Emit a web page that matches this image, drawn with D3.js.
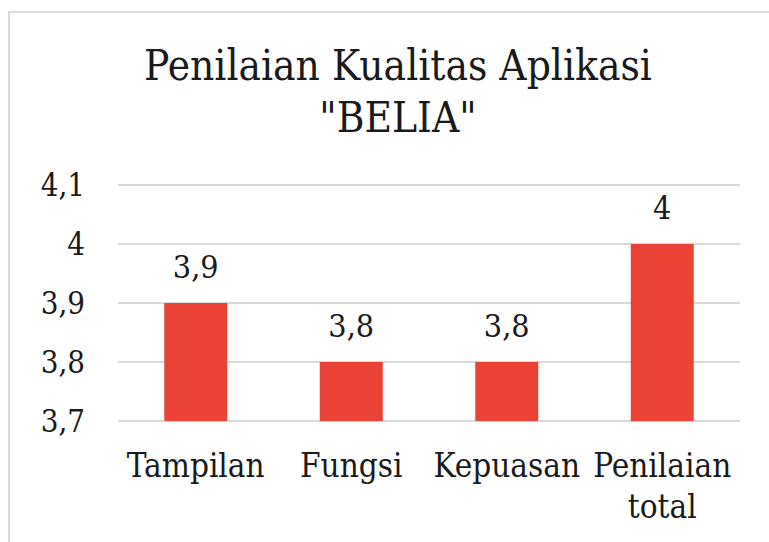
<!DOCTYPE html>
<html>
  <meta charset="utf-8">
  <style>
    body { margin: 0; background: #fff; }
  </style>
  <head>
    <script src="https://d3js.org/d3.v7.min.js"></script>
  </head>
  <body>
    <script>
      var categories = [["Tampilan"], ["Fungsi"], ["Kepuasan"], ["Penilaian", "total"]];
      var values = [3.9, 3.8, 3.8, 4];
      var valueLabels = ["3,9", "3,8", "3,8", "4"];
      var ticks = [3.7, 3.8, 3.9, 4, 4.1];
      var tickLabels = ["3,7", "3,8", "3,9", "4", "4,1"];
      var titleLines = ["Penilaian Kualitas Aplikasi", "\"BELIA\""];

      var width = 769,
          height = 542;

      var svg = d3.select("body").append("svg")
          .attr("width", width)
          .attr("height", height)
          .style("font-family", "DejaVu Serif Condensed, DejaVu Serif, serif")
          .style("font-stretch", "condensed")
          .attr("fill", "#1a1a1a");

      // chart frame (cropped at right/bottom)
      svg.append("rect")
          .attr("x", 9).attr("y", 12)
          .attr("width", 800).attr("height", 600)
          .attr("fill", "none")
          .attr("stroke", "#d9d9d9")
          .attr("stroke-width", 2);

      var x = d3.scaleBand()
          .domain(d3.range(categories.length))
          .range([118, 740])
          .paddingInner(0.595)
          .paddingOuter(0.2975);

      var y = d3.scaleLinear()
          .domain([3.7, 4.1])
          .range([421, 185]);

      // gridlines
      svg.append("g").selectAll("line")
          .data(ticks)
          .enter().append("line")
          .attr("x1", 118).attr("x2", 740)
          .attr("y1", function(d) { return y(d); })
          .attr("y2", function(d) { return y(d); })
          .attr("stroke", "#d9d9d9")
          .attr("stroke-width", 2);

      // y tick labels
      svg.append("g").selectAll("text")
          .data(ticks)
          .enter().append("text")
          .attr("x", 85)
          .attr("y", function(d) { return y(d); })
          .attr("dy", "0.36em")
          .attr("text-anchor", "end")
          .attr("font-size", 31)
          .text(function(d, i) { return tickLabels[i]; });

      // bars
      svg.append("g").selectAll("rect")
          .data(values)
          .enter().append("rect")
          .attr("x", function(d, i) { return x(i); })
          .attr("y", function(d) { return y(d); })
          .attr("width", x.bandwidth())
          .attr("height", function(d) { return y(3.7) - y(d); })
          .attr("fill", "#ea4335");

      // data labels
      svg.append("g").selectAll("text")
          .data(values)
          .enter().append("text")
          .attr("x", function(d, i) { return x(i) + x.bandwidth() / 2; })
          .attr("y", function(d) { return y(d) - 25; })
          .attr("text-anchor", "middle")
          .attr("font-size", 32)
          .text(function(d, i) { return valueLabels[i]; });

      // category labels
      var cat = svg.append("g").selectAll("text")
          .data(categories)
          .enter().append("text")
          .attr("x", function(d, i) { return x(i) + x.bandwidth() / 2; })
          .attr("y", 477)
          .attr("text-anchor", "middle")
          .attr("font-size", 33);
      cat.selectAll("tspan")
          .data(function(d) { return d; })
          .enter().append("tspan")
          .attr("x", function() { return d3.select(this.parentNode).attr("x"); })
          .attr("dy", function(d, i) { return i ? 41 : 0; })
          .text(function(d) { return d; });

      // title
      svg.append("g").selectAll("text")
          .data(titleLines)
          .enter().append("text")
          .attr("x", 398)
          .attr("y", function(d, i) { return 80 + i * 52; })
          .attr("text-anchor", "middle")
          .attr("font-size", 42)
          .text(function(d) { return d; });
    </script>
  </body>
</html>
